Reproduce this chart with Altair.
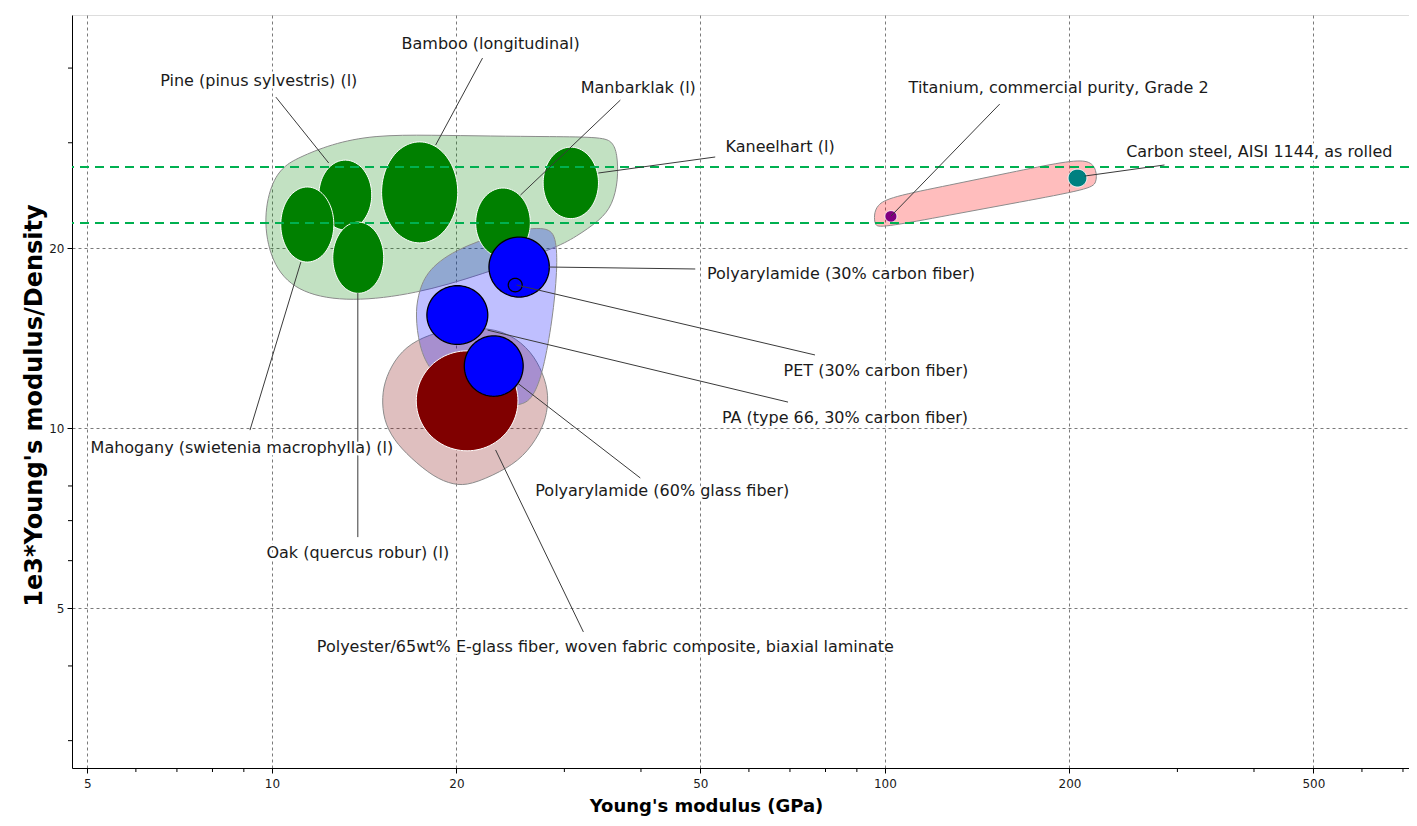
import altair as alt
import numpy as np
import pandas as pd

# ---------------- data ----------------
materials = [
    "Pine (pinus sylvestris) (l)",
    "Mahogany (swietenia macrophylla) (l)",
    "Oak (quercus robur) (l)",
    "Bamboo (longitudinal)",
    "Manbarklak (l)",
    "Kaneelhart (l)",
    "Polyester/65wt% E-glass fiber, woven fabric composite, biaxial laminate",
    "PA (type 66, 30% carbon fiber)",
    "Polyarylamide (60% glass fiber)",
    "Polyarylamide (30% carbon fiber)",
    "PET (30% carbon fiber)",
    "Titanium, commercial purity, Grade 2",
    "Carbon steel, AISI 1144, as rolled",
]
family = ["wood", "wood", "wood", "wood", "wood", "wood", "composite",
          "polymer", "polymer", "polymer", "polymer", "titanium", "steel"]

# Young's modulus range (GPa)
modulus_min = [11.93, 10.34, 12.57, 15.1, 21.5, 27.7, 17.2, 17.9, 20.6, 22.6, 24.3, 100.0, 199.0]
modulus_max = [14.55, 12.62, 15.22, 20.1, 26.4, 34.1, 25.2, 22.5, 25.7, 28.35, 25.6, 104.6, 213.5]
# 1e3 * Young's modulus / density range
specific_min = [21.44, 18.95, 16.8, 20.4, 19.3, 22.4, 9.16, 13.8, 11.3, 16.56, 16.9, 22.1, 25.3]
specific_max = [28.06, 25.3, 22.1, 30.1, 25.2, 29.5, 13.46, 17.3, 14.26, 20.86, 17.8, 23.1, 27.1]

# label anchor (text centre) and leader line (from bubble to label)
label_E = [9.52, 8.935, 13.81, 22.74, 39.60, 67.45, 34.99, 86.07, 43.33, 84.78, 96.67, 192.0, 408.0]
label_R = [38.05, 9.26, 6.18, 43.87, 37.03, 29.51, 4.30, 10.39, 7.846, 18.10, 12.45, 37.03, 28.94]
leader_E0 = [12.38, 11.15, 13.81, 18.50, 25.44, 34.08, 23.17, 22.48, 25.16, 28.26, 25.06, 102.3, 211.7]
leader_R0 = [27.75, 18.95, 16.82, 29.74, 24.53, 26.70, 9.19, 14.58, 11.89, 18.59, 17.35, 22.62, 26.39]
leader_E1 = [10.15, 9.21, 13.81, 22.06, 37.02, 52.87, 32.22, 69.5, 39.9, 49.05, 76.9, 153.9, 285.8]
leader_R1 = [35.77, 9.92, 6.57, 41.57, 35.36, 28.40, 4.56, 11.05, 8.25, 18.45, 13.25, 34.82, 27.54]

# envelopes around material families (outline vertices)
env_wood_E = [9.668, 9.963, 10.46, 11.02, 12.48, 14.66, 18.16, 22.74, 28.48, 34.73, 35.93, 36.60,
              36.74, 35.93, 34.34, 31.27, 29.01, 21.90, 17.16, 13.45, 11.15, 10.04]
env_wood_R = [22.11, 25.69, 27.43, 28.29, 29.85, 30.90, 30.90, 30.78, 30.72, 30.66, 30.08, 28.83,
              25.98, 23.60, 22.27, 20.86, 20.00, 18.03, 16.76, 16.25, 16.76, 18.52]
env_comp_E = [15.11, 15.34, 16.04, 17.16, 19.06, 21.09, 23.87, 26.12, 27.42, 28.26, 28.15,
              27.42, 25.73, 23.60, 21.09, 19.79, 18.36, 16.84, 15.80, 15.22]
env_comp_R = [11.27, 12.17, 13.25, 14.04, 14.58, 14.75, 14.58, 13.66, 12.65, 11.57, 10.60,
              9.81, 8.94, 8.44, 8.03, 8.03, 8.28, 8.91, 9.55, 10.31]
env_poly_E = [17.29, 17.81, 19.79, 23.87, 27.95, 29.12, 29.23, 28.69, 27.73, 26.71, 25.25,
              21.09, 18.16, 17.36, 17.16]
env_poly_R = [16.57, 18.24, 19.85, 21.27, 21.77, 21.02, 18.38, 15.16, 12.50, 11.22, 10.80,
              11.14, 12.27, 13.76, 15.45]
env_metal_E = [95.96, 97.05, 101.9, 127.6, 159.8, 197.9, 215.8, 221.5, 221.5, 215.8, 165.9,
               127.6, 98.15, 96.31]
env_metal_R = [22.71, 23.60, 24.34, 25.49, 26.74, 27.96, 28.07, 27.01, 25.69, 25.10, 23.87,
               22.71, 21.60, 21.85]

# performance-index guide lines
guide_R = [27.33, 22.02]

# axis ticks
x_major = [5, 10, 20, 50, 100, 200, 500]
x_minor = [6, 7, 8, 9, 30, 40, 60, 70, 80, 90, 300, 400, 600, 700]
y_major = [5, 10, 20]
y_minor = [3, 4, 6, 7, 8, 30, 40]

# ---------------- styling ----------------
W, H = 1337, 753
FONT = "DejaVu Sans"
fam_fill = {"wood": "#008000", "composite": "#800000", "polymer": "#0000ff",
            "titanium": "#800080", "steel": "#008080"}
fam_stroke = {"wood": "#ffffff", "composite": "#ffffff", "polymer": "#000000",
              "titanium": "#ffffff", "steel": "#ffffff"}

xs = alt.Scale(type="log", domain=[4.72, 716], nice=False)
ys = alt.Scale(type="log", domain=[2.70, 49.07], nice=False)
x_axis = alt.Axis(values=x_major, format="d", grid=True, gridDash=[3, 3], gridColor="#7a7a7a",
                  gridOpacity=1, tickSize=5, tickColor="#000", domainColor="#000",
                  labelFont=FONT, labelFontSize=12, labelColor="#1a1a1a", labelPadding=5,
                  titleFont=FONT, titleFontSize=18, titleFontWeight="bold", titleColor="#000",
                  titleX=634, titleY=38, titleAlign="center", titleBaseline="middle")
y_axis = alt.Axis(values=y_major, format="d", grid=True, gridDash=[3, 3], gridColor="#7a7a7a",
                  gridOpacity=1, tickSize=5, tickColor="#000", domainColor="#000",
                  labelFont=FONT, labelFontSize=12, labelColor="#1a1a1a", labelPadding=3,
                  titleFont=FONT, titleFontSize=24, titleFontWeight="bold", titleColor="#000",
                  titleX=-38, titleY=390, titleAngle=270, titleAlign="center", titleBaseline="middle")


def X(field="E"):
    return alt.X(f"{field}:Q", scale=xs, axis=x_axis, title="Young's modulus (GPa)")


def Y(field="R"):
    return alt.Y(f"{field}:Q", scale=ys, axis=y_axis, title="1e3*Young's modulus/Density")


layers = []

# family envelopes
env_specs = [
    (env_wood_E, env_wood_R, "#008000", 0.24),
    (env_comp_E, env_comp_R, "#800000", 0.25),
    (env_poly_E, env_poly_R, "#0000ff", 0.25),
    (env_metal_E, env_metal_R, "#ff0000", 0.26),
]
for eE, eR, col, op in env_specs:
    df = pd.DataFrame({"E": eE, "R": eR, "i": range(len(eE))})
    layers.append(
        alt.Chart(df).mark_line(filled=True, fill=col, fillOpacity=op, stroke="#8c8c8c",
                                strokeWidth=1, interpolate="basis-closed")
        .encode(x=X(), y=Y(), order=alt.Order("i:Q"))
    )

# material bubbles: ellipses spanning each property range (in log space)
t = np.linspace(0, 2 * np.pi, 96, endpoint=False)
for k, name in enumerate(materials):
    cx = (np.log10(modulus_min[k]) + np.log10(modulus_max[k])) / 2
    rx = (np.log10(modulus_max[k]) - np.log10(modulus_min[k])) / 2
    cy = (np.log10(specific_min[k]) + np.log10(specific_max[k])) / 2
    ry = (np.log10(specific_max[k]) - np.log10(specific_min[k])) / 2
    df = pd.DataFrame({"E": 10 ** (cx + rx * np.cos(t)), "R": 10 ** (cy + ry * np.sin(t)),
                       "i": np.arange(len(t))})
    fam = family[k]
    layers.append(
        alt.Chart(df).mark_line(filled=True, fill=fam_fill[fam], stroke=fam_stroke[fam],
                                strokeWidth=1.3 if fam == "polymer" else 1.0,
                                interpolate="linear-closed")
        .encode(x=X(), y=Y(), order=alt.Order("i:Q"))
    )

# guide lines
layers.append(
    alt.Chart(pd.DataFrame({"R": guide_R})).mark_rule(color="#00b050", strokeWidth=2,
                                                     strokeDash=[9, 6])
    .encode(y=Y())
)

# minor ticks
layers.append(
    alt.Chart(pd.DataFrame({"E": x_minor})).mark_rule(color="#000", strokeWidth=1)
    .encode(x=X(), y=alt.value(H), y2=alt.value(H + 4))
)
layers.append(
    alt.Chart(pd.DataFrame({"R": y_minor})).mark_rule(color="#000", strokeWidth=1)
    .encode(y=Y(), x=alt.value(0), x2=alt.value(-4))
)

# leader lines
lead = pd.DataFrame({"E": leader_E0, "R": leader_R0, "E1": leader_E1, "R1": leader_R1})
layers.append(
    alt.Chart(lead).mark_rule(color="#3a3a3a", strokeWidth=1)
    .encode(x=X(), y=Y(), x2=alt.X2("E1"), y2=alt.Y2("R1"))
)

# labels (white halo, then text)
lab = pd.DataFrame({"E": label_E, "R": label_R, "name": materials})
layers.append(
    alt.Chart(lab).mark_text(font=FONT, fontSize=16, align="center", baseline="middle",
                             stroke="#ffffff", strokeWidth=5, strokeJoin="round", fill="#ffffff")
    .encode(x=X(), y=Y(), text="name:N")
)
layers.append(
    alt.Chart(lab).mark_text(font=FONT, fontSize=16, align="center", baseline="middle",
                             color="#1a1a1a")
    .encode(x=X(), y=Y(), text="name:N")
)

chart = (
    alt.layer(*layers)
    .properties(width=W, height=H, autosize=alt.AutoSizeParams(type="none"),
                padding={"left": 64, "top": 7, "right": 0, "bottom": 50})
    .configure_view(stroke="#000", strokeWidth=1)
    .configure(background="#ffffff")
)

chart.save("out.html", embed_options={"renderer": "svg", "actions": False})
